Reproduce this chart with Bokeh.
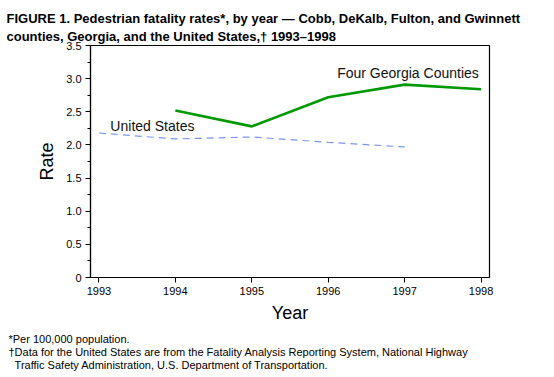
from bokeh.plotting import figure
from bokeh.models import Range1d, FixedTicker, Label, Title
from bokeh.embed import file_html
from bokeh.resources import INLINE

years_ga = [1994, 1995, 1996, 1997, 1998]
rates_ga = [2.52, 2.28, 2.72, 2.91, 2.84]
years_us = [1993, 1994, 1995, 1996, 1997]
rates_us = [2.18, 2.09, 2.12, 2.04, 1.97]
x_ticks = [1993, 1994, 1995, 1996, 1997, 1998]
y_ticks = [0, 0.5, 1.0, 1.5, 2.0, 2.5, 3.0, 3.5]
y_tick_labels = ["0", "0.5", "1.0", "1.5", "2.0", "2.5", "3.0", "3.5"]
y_minor = [0.25, 0.75, 1.25, 1.75, 2.25, 2.75, 3.25]

FONT = "Liberation Sans"
W, H = 554, 377

p = figure(width=W, height=H, output_backend="svg", toolbar_location=None,
           x_range=Range1d(1992.89, 1998.11), y_range=Range1d(0, 3.5),
           min_border_left=90, min_border_right=65, min_border_top=45, min_border_bottom=100)
p.xgrid.visible = False
p.ygrid.visible = False
p.outline_line_color = "black"
p.outline_line_width = 1.2

p.line(years_us, rates_us, line_color="#7b96e6", line_width=1.2, line_dash="7 5")
p.line(years_ga, rates_ga, line_color="#009900", line_width=2.6)

p.xaxis.ticker = FixedTicker(ticks=x_ticks)
p.yaxis.ticker = FixedTicker(ticks=y_ticks, minor_ticks=y_minor)
p.yaxis.major_label_overrides = {t: l for t, l in zip(y_ticks, y_tick_labels)}
for ax in (p.xaxis, p.yaxis):
    ax.axis_line_color = "black"
    ax.axis_line_width = 1.2
    ax.major_tick_line_color = "black"
    ax.minor_tick_line_color = "black"
    ax.major_tick_in = 0
    ax.major_tick_out = 5
    ax.minor_tick_in = 0
    ax.minor_tick_out = 3
    ax.major_label_text_font = FONT
    ax.major_label_text_font_size = "11px"
    ax.major_label_text_color = "black"
    ax.axis_label_text_font = FONT
    ax.axis_label_text_font_size = "18px"
    ax.axis_label_text_font_style = "normal"
    ax.axis_label_text_color = "black"
p.xaxis.minor_tick_out = 0
p.xaxis.axis_label = "Year"
p.yaxis.axis_label = "Rate"
p.xaxis.major_label_standoff = 4
p.xaxis.axis_label_standoff = 5
p.yaxis.major_label_standoff = 4
p.yaxis.axis_label_standoff = 6

p.add_layout(Label(x=1993.15, y=2.28, text="United States", text_font=FONT,
                   text_font_size="14px", text_baseline="middle", text_color="#111111"))
p.add_layout(Label(x=1997.97, y=3.08, text="Four Georgia Counties", text_font=FONT,
                   text_font_size="14px", text_baseline="middle", text_align="right",
                   text_color="#111111"))

title_text = ("FIGURE 1. Pedestrian fatality rates*, by year \u2014 Cobb, DeKalb, Fulton, and Gwinnett\n"
              "counties, Georgia, and the United States,\u2020 1993\u20131998")
foot_text = ("*Per 100,000 population.\n"
             "\u2020Data for the United States are from the Fatality Analysis Reporting System, National Highway\n"
             "\u00a0\u00a0Traffic Safety Administration, U.S. Department of Transportation.")

p.add_layout(Title(text=title_text, text_font=FONT, text_font_size="13px", text_font_style="bold",
                   text_line_height=1.2, align="left", offset=-84, standoff=0,
                   vertical_align="top", text_color="black"), "above")
p.add_layout(Title(text=foot_text, text_font=FONT, text_font_size="11px", text_font_style="normal",
                   text_line_height=1.12, align="left", offset=-82, standoff=10,
                   text_color="black"), "below")

open("out.html", "w").write(file_html(p, INLINE))
